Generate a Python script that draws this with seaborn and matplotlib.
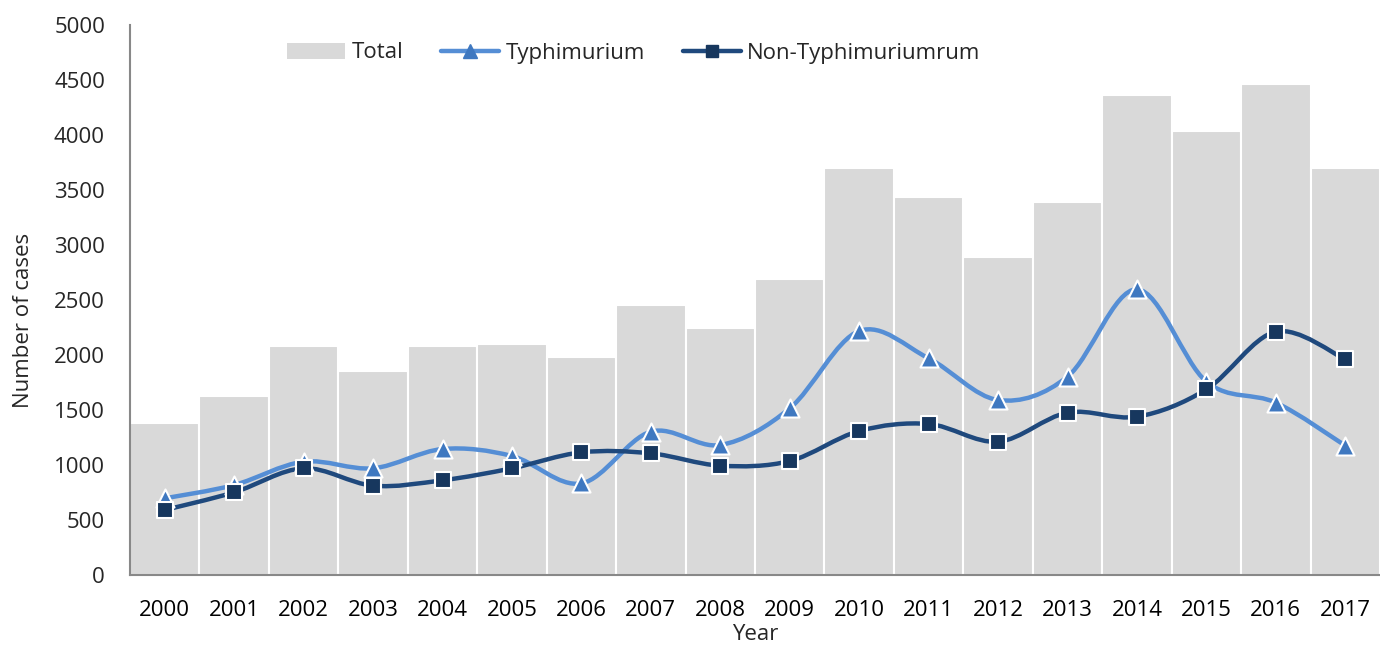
import numpy as np
import pandas as pd
import matplotlib
matplotlib.use("Agg")
import matplotlib.pyplot as plt
from matplotlib.path import Path
from matplotlib.patches import PathPatch, Patch
from matplotlib.lines import Line2D
import seaborn as sns

years = [str(y) for y in range(2000, 2018)]
total = [1380, 1625, 2080, 1857, 2085, 2103, 1982, 2458, 2242, 2691,
         3700, 3438, 2894, 3394, 4367, 4036, 4461, 3700]
typhimurium = [697, 818, 1030, 970, 1145, 1082, 833, 1303, 1182, 1515,
               2218, 1970, 1591, 1803, 2597, 1758, 1567, 1176]
non_typhimurium = [591, 752, 970, 812, 861, 970, 1115, 1106, 994, 1036,
                   1309, 1373, 1212, 1476, 1439, 1688, 2212, 1961]

df = pd.DataFrame({"Year": years, "Total": total,
                   "Typhimurium": typhimurium, "Non-Typhimurium": non_typhimurium})

sns.set_theme(style="white")
plt.rcParams["font.family"] = ["Open Sans", "DejaVu Sans"]
FS = 16

fig = plt.figure(figsize=(13.8, 6.53), dpi=100)
ax = fig.add_axes([130 / 1380, 78 / 653, 1250 / 1380, 550 / 653])

# bars
sns.barplot(data=df, x="Year", y="Total", color="#d9d9d9", saturation=1,
            width=1.0, edgecolor="white", linewidth=1.5, ax=ax, zorder=1)


def smooth_path(xs, ys, k=1 / 6):
    # Bezier smoothing like a spreadsheet "smoothed line"
    pts = np.column_stack([xs, ys]).astype(float)
    verts = [pts[0]]
    codes = [Path.MOVETO]
    n = len(pts)
    for i in range(n - 1):
        p0 = pts[max(i - 1, 0)]
        p1 = pts[i]
        p2 = pts[i + 1]
        p3 = pts[min(i + 2, n - 1)]
        c1 = p1 + (p2 - p0) * k
        c2 = p2 - (p3 - p1) * k
        verts += [c1, c2, p2]
        codes += [Path.CURVE4] * 3
    return Path(verts, codes)


xpos = np.arange(len(years))
series = [
    ("Typhimurium", typhimurium, "#558ed5", "#3f78c0", "^", 13),
    ("Non-Typhimurium", non_typhimurium, "#1f497d", "#17375e", "s", 12),
]
for name, vals, lc, mc, mk, ms in series:
    ax.add_patch(PathPatch(smooth_path(xpos, vals), facecolor="none",
                           edgecolor=lc, linewidth=3.2, zorder=3,
                           capstyle="round"))
    sns.scatterplot(x=xpos, y=vals, marker=mk, s=ms ** 2, color=mc,
                    edgecolor="white", linewidth=1.5, ax=ax, zorder=4,
                    legend=False)

ax.set_xlim(-0.5, len(years) - 0.5)
ax.set_ylim(0, 5000)
ax.set_yticks(range(0, 5001, 500))
ax.set_yticklabels([str(v) for v in range(0, 5001, 500)], fontsize=FS)
ax.set_xticks(xpos)
ax.set_xticklabels(years, fontsize=FS)
ax.set_xticks(np.arange(-0.5, len(years)), minor=True)
ax.tick_params(axis="x", which="major", length=0, pad=18, colors="black")
ax.tick_params(axis="x", which="minor", length=7, width=1.5, color="#888888",
               direction="out")
ax.tick_params(axis="y", length=7, width=1.5, color="#888888",
               direction="out", pad=11)
ax.set_xlabel("Year", fontsize=FS)
ax.set_ylabel("Number of cases", fontsize=FS)
ax.xaxis.set_label_coords(755 / 1380, 1 - 624 / 653, transform=fig.transFigure)
ax.yaxis.set_label_coords(34 / 1380, 1 - 320 / 653, transform=fig.transFigure)

for s in ["top", "right"]:
    ax.spines[s].set_visible(False)
for s in ["left", "bottom"]:
    ax.spines[s].set_color("#888888")
    ax.spines[s].set_linewidth(1.5)

handles = [
    Patch(facecolor="#d9d9d9", edgecolor="none"),
    Line2D([0], [0], color="#558ed5", lw=3.2, marker="^", markersize=10,
           markerfacecolor="#3f78c0", markeredgecolor="#3f78c0"),
    Line2D([0], [0], color="#1f497d", lw=3.2, marker="s", markersize=9,
           markerfacecolor="#17375e", markeredgecolor="#17375e"),
]
fig.legend(handles, ["Total", "Typhimurium", "Non-Typhimuriumrum"],
           loc="center", bbox_to_anchor=(634 / 1380, 1 - 53 / 653), ncol=3,
           frameon=False, fontsize=FS, handlelength=2.6, handletextpad=0.3,
           columnspacing=1.7)

fig.savefig("out.png", dpi=100)
